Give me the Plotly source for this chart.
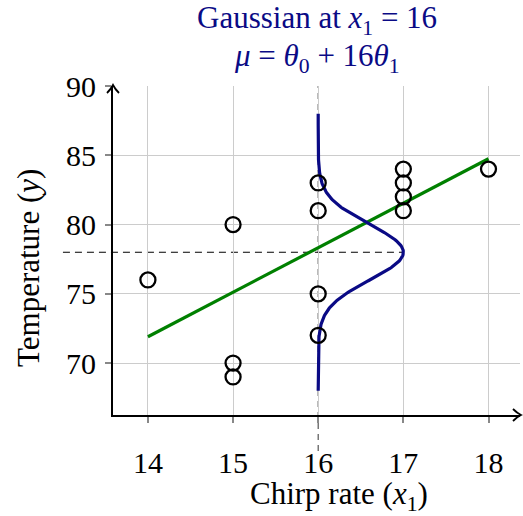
import numpy as np
import plotly.graph_objects as go

# Data
chirp = [14, 15, 15, 15, 16, 16, 16, 16, 17, 17, 17, 17, 18]
temp = [76, 80, 70, 69, 83, 81, 75, 72, 84, 83, 82, 81, 84]
fit_x = [14, 18]
fit_y = [71.9, 84.75]
x_at = 16
mu = 78
sigma = 2.0
gauss_amp = 1.0
gauss_span = [68, 88]
xticks = [14, 15, 16, 17, 18]
yticks = [70, 75, 80, 85, 90]

x_range = [13.59, 18.37]
y_range = [66.25, 90]

FONT = "Liberation Serif"
NAVY = "#0a0a85"

gy = np.linspace(gauss_span[0], gauss_span[1], 300)
gx = x_at + gauss_amp * np.exp(-(gy - mu) ** 2 / (2 * sigma ** 2))

fig = go.Figure()
fig.add_trace(go.Scatter(x=fit_x, y=fit_y, mode="lines",
                         line=dict(color="#008000", width=3.2), showlegend=False))
fig.add_trace(go.Scatter(x=gx, y=gy, mode="lines",
                         line=dict(color=NAVY, width=3.2), showlegend=False))
fig.add_trace(go.Scatter(x=chirp, y=temp, mode="markers",
                         marker=dict(symbol="circle-open", size=15, color="black",
                                     line=dict(width=2.3)),
                         showlegend=False, cliponaxis=False))

H = 516 - 86 - 101  # plot height in px


def xfrac(v):
    return (v - x_range[0]) / (x_range[1] - x_range[0])


def yfrac(v):
    return (v - y_range[0]) / (y_range[1] - y_range[0])


def ypx(px):
    return (516 - 101 - px) / H


shapes = [
    dict(type="line", xref="x", yref="paper", x0=x_at, x1=x_at, y0=ypx(451), y1=yfrac(90),
         line=dict(color="#555555", width=1.2, dash="6px,5px"), layer="below"),
    dict(type="line", xref="paper", yref="y", x0=-0.123, x1=xfrac(17), y0=mu, y1=mu,
         line=dict(color="black", width=1.1, dash="7px,5px"), layer="below"),
    dict(type="path", xref="paper", yref="paper", xsizemode="pixel", ysizemode="pixel",
         xanchor=0, yanchor=1, path="M -6,-7 Q -2,-3 0,1 Q 2,-3 6,-7",
         line=dict(color="black", width=1.8)),
    dict(type="path", xref="paper", yref="paper", xsizemode="pixel", ysizemode="pixel",
         xanchor=1, yanchor=0, path="M -7,6 Q -3,2 1,0 Q -3,-2 -7,-6",
         line=dict(color="black", width=1.8)),
]

annotations = [
    dict(text="Gaussian at <i>x</i><sub>1</sub> = 16", xref="paper", yref="paper",
         x=xfrac(15.98), y=ypx(20), xanchor="center", yanchor="middle", showarrow=False,
         font=dict(family=FONT, size=31, color=NAVY)),
    dict(text="<i>μ</i> = <i>θ</i><sub>0</sub> + 16<i>θ</i><sub>1</sub>", xref="paper", yref="paper",
         x=xfrac(15.98), y=ypx(58), xanchor="center", yanchor="middle", showarrow=False,
         font=dict(family=FONT, size=31, color=NAVY)),
    dict(text="Chirp rate (<i>x</i><sub>1</sub>)", xref="paper", yref="paper",
         x=xfrac(16.24), y=ypx(496), xanchor="center", yanchor="middle",
         showarrow=False, font=dict(family=FONT, size=31, color="black")),
    dict(text="Temperature (<i>y</i>)", xref="paper", yref="paper", textangle=-90,
         x=(28 - 113) / 407, y=ypx(268), xanchor="center", yanchor="middle",
         showarrow=False, font=dict(family=FONT, size=31, color="black")),
]

fig.update_layout(
    width=523, height=516,
    margin=dict(l=113, r=3, t=86, b=101, autoexpand=False),
    plot_bgcolor="white", paper_bgcolor="white",
    font=dict(family=FONT, size=30, color="black"),
    shapes=shapes,
    annotations=annotations,
)
fig.update_xaxes(range=x_range, tickvals=xticks, showgrid=True, gridcolor="#cccccc", gridwidth=1,
                 showline=True, linecolor="black", linewidth=2, ticks="outside", ticklen=6,
                 tickcolor="#888888", tickwidth=1.5, zeroline=False, ticklabelstandoff=14,
                 tickfont=dict(size=30), automargin=False)
fig.update_yaxes(range=y_range, tickvals=yticks, showgrid=True, gridcolor="#cccccc", gridwidth=1,
                 showline=True, linecolor="black", linewidth=2, ticks="outside", ticklen=6,
                 tickcolor="#888888", tickwidth=1.5, zeroline=False, ticklabelstandoff=3,
                 tickfont=dict(size=30), automargin=False)

fig.write_html("out.html", config={"displayModeBar": False},
               post_script="document.body.style.margin='0';document.body.style.padding='0';")
